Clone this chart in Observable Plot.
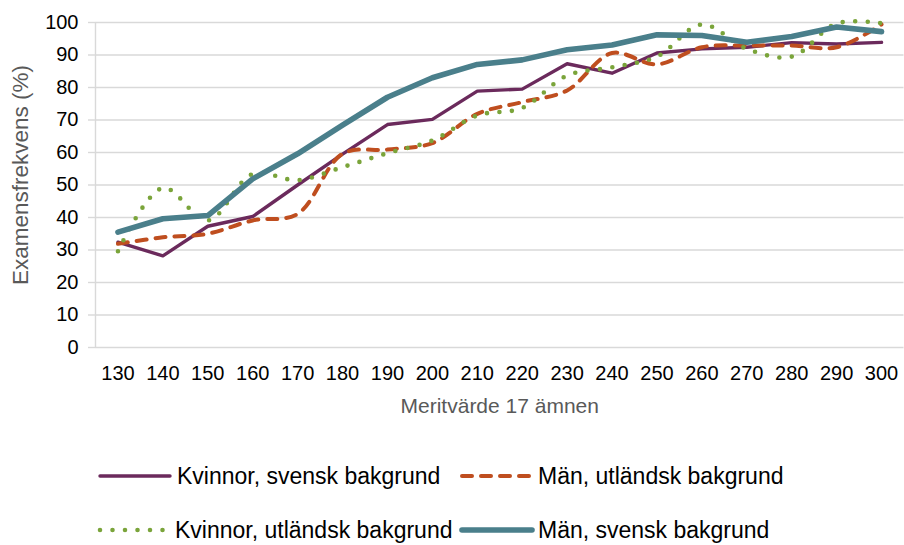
<!DOCTYPE html>
<html><head><meta charset="utf-8">
<script src="https://cdn.jsdelivr.net/npm/d3@7"></script>
<script src="https://cdn.jsdelivr.net/npm/@observablehq/plot@0.6"></script>
<style>
body{margin:0;background:#fff;}
#wrap{position:relative;width:904px;height:545px;overflow:hidden;font-family:"Liberation Sans",Arial,sans-serif;}
#wrap svg{display:block;}
</style></head><body><div id="wrap"></div>
<script>
// Data
const meritvarde = [130,140,150,160,170,180,190,200,210,220,230,240,250,260,270,280,290,300];
const yTicks = [0,10,20,30,40,50,60,70,80,90,100];
const seriesNames = ["Kvinnor, svensk bakgrund","Män, utländsk bakgrund","Kvinnor, utländsk bakgrund","Män, svensk bakgrund"];
const kvinnorSvensk   = [32.4,28.2,37.3,40.3,50.0,59.5,68.6,70.2,78.9,79.5,87.3,84.4,90.6,91.9,92.4,93.8,93.4,93.9];
const manUtlandsk     = [31.9,33.9,35.0,39.1,41.1,59.6,60.9,62.9,71.9,75.5,79.1,90.6,87.1,92.4,92.9,92.9,92.4,99.4];
const kvinnorUtlandsk = [29.6,49.1,39.1,53.4,51.5,55.5,59.8,63.7,71.4,73.7,83.7,86.2,89.5,99.4,91.9,89.5,99.7,99.8];
const manSvensk       = [35.5,39.6,40.6,51.9,59.6,68.4,77.0,83.0,87.1,88.5,91.6,93.1,96.2,96.0,93.9,95.7,98.6,97.2];

const valueLists = [kvinnorSvensk, manUtlandsk, kvinnorUtlandsk, manSvensk];
const styles = [
  {stroke:"#6b2a5c", strokeWidth:3.4, dash:null, curve:"linear"},
  {stroke:"#bf4e1f", strokeWidth:4, dash:"10 9", curve:"catmull-rom"},
  {stroke:"#7aa43a", strokeWidth:4.6, dash:"0 12.5", curve:"catmull-rom"},
  {stroke:"#4a7f8b", strokeWidth:5.6, dash:null, curve:"linear"}
];

const lineMarks = valueLists.map((vals, i) => {
  const rows = meritvarde.map((m, j) => ({m, v: vals[j]}));
  const s = styles[i];
  return Plot.line(rows, {x:"m", y:"v", stroke:s.stroke, strokeWidth:s.strokeWidth,
    strokeDasharray: s.dash || undefined, strokeLinecap:"round", strokeLinejoin:"round", curve:s.curve});
});

const H = 440;
const plot = Plot.plot({
  width:904, height:H,
  marginLeft:95, marginRight:0.5, marginTop:22, marginBottom:93,
  style:{fontFamily:"Liberation Sans, Arial, sans-serif", fontSize:"20px", background:"#fff", overflow:"visible"},
  x:{domain:[125,305]},
  y:{domain:[0,100]},
  marks:[
    Plot.ruleY(yTicks, {stroke:"#d9d9d9", strokeWidth:1.4}),
    Plot.ruleX([125], {stroke:"#d9d9d9", strokeWidth:1.4}),
    Plot.axisY({ticks:yTicks, tickSize:7, tickPadding:10, stroke:"#d9d9d9", strokeWidth:1.4, fill:"#000", label:null, tickFormat:d=>String(d)}),
    Plot.axisX({ticks:meritvarde, tickSize:0, tickPadding:18, fill:"#000", label:null, tickFormat:d=>String(d)}),
    ...lineMarks,
    Plot.text(["Meritvärde 17 ämnen"], {frameAnchor:"bottom", lineAnchor:"top", dy:51, fill:"#595959", fontSize:21}),
    Plot.text(["Examensfrekvens (%)"], {frameAnchor:"left", textAnchor:"middle", lineAnchor:"middle", rotate:-90, dx:-75, dy:-10, fill:"#595959", fontSize:22.5})
  ]
});
document.getElementById("wrap").appendChild(plot);

// Legend below the plot
const legPos = [
  {x0:100, x1:170, tx:177, y:476},
  {x0:462, x1:532, tx:538, y:476},
  {x0:100, x1:164, tx:175, y:530},
  {x0:462, x1:532, tx:538, y:530}
];
const leg = d3.select("#wrap").append("svg").attr("width",904).attr("height",545-H)
  .style("font-family","Liberation Sans, Arial, sans-serif");
seriesNames.forEach((name, i) => {
  const p = legPos[i], s = styles[i];
  leg.append("line").attr("x1",p.x0).attr("x2",p.x1).attr("y1",p.y-H).attr("y2",p.y-H)
    .attr("stroke",s.stroke).attr("stroke-width",s.strokeWidth).attr("stroke-linecap","round")
    .attr("stroke-dasharray", s.dash);
  leg.append("text").attr("x",p.tx).attr("y",p.y-H).attr("dy","0.35em")
    .attr("font-size",23).attr("fill","#000").text(name);
});
</script></body></html>
